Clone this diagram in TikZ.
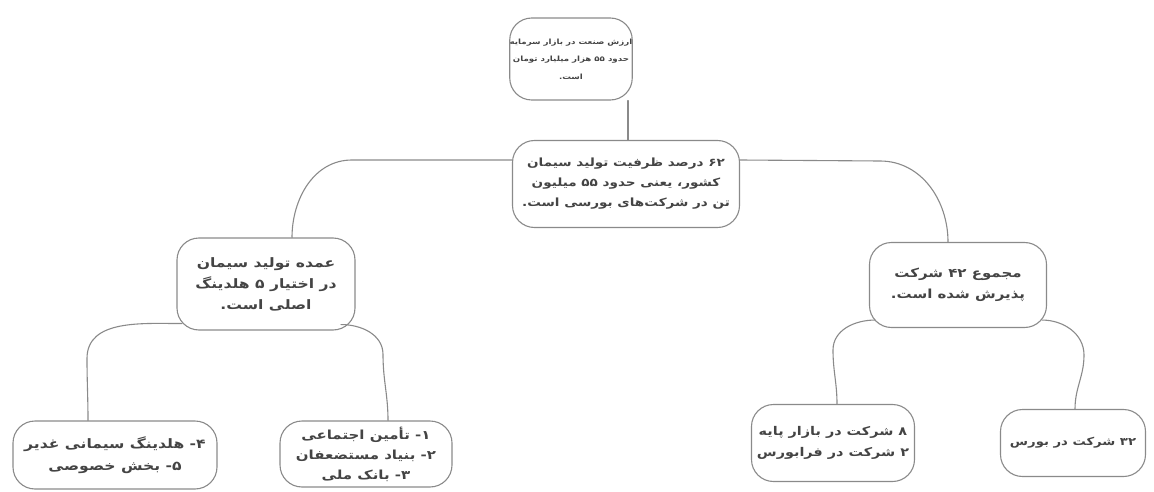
\documentclass[tikz,border=0pt]{standalone}
\usepackage{fontspec}
\newfontfamily\fa[Script=Arabic, FakeStretch=1.2]{DejaVu Sans Bold}
\TeXXeTstate=1
\newcommand\rl[1]{\beginR #1\endR}
\newcommand\fs[2]{\fa\fontsize{#1}{#2}\selectfont}
\definecolor{edge}{HTML}{8A8A8A}
\definecolor{ink}{HTML}{444444}
\tikzset{
  box/.style={draw=edge, line width=1.1pt, rounded corners=22pt, align=center,
    text=ink, inner sep=0pt},
  link/.style={draw=edge, line width=1.1pt, line cap=round}
}
\begin{document}
\begin{tikzpicture}[x=1pt,y=-1pt]
\useasboundingbox (0,0) rectangle (1154,492);
\node[box, minimum width=122pt, minimum height=82pt, font=\fs{7.2}{17.5}] (n1) at (571,59)
  {\rl{ارزش صنعت در بازار سرمایه}\\\rl{حدود ۵۵ هزار میلیارد تومان}\\\rl{است.}};
\node[box, minimum width=227pt, minimum height=87pt, font=\fs{11.3}{20}] (n2) at (626,184)
  {\rl{۶۲ درصد ظرفیت تولید سیمان}\\\rl{کشور، یعنی حدود ۵۵ میلیون}\\\rl{تن در شرکت‌های بورسی است.}};
\node[box, minimum width=178pt, minimum height=92pt, font=\fs{13}{21}] (n3) at (266,284)
  {\rl{عمده تولید سیمان}\\\rl{در اختیار ۵ هلدینگ}\\\rl{اصلی است.}};
\node[box, minimum width=177pt, minimum height=85pt, font=\fs{12.5}{21}] (n4) at (958,285)
  {\rl{مجموع ۴۲ شرکت}\\\rl{پذیرش شده است.}};
\node[box, minimum width=204pt, minimum height=68pt, font=\fs{13}{22}] (n5) at (115,455)
  {\rl{۴- هلدینگ سیمانی غدیر}\\\rl{۵- بخش خصوصی}};
\node[box, minimum width=172pt, minimum height=66pt, font=\fs{12.5}{20}] (n6) at (366,454)
  {\rl{۱- تأمین اجتماعی}\\\rl{۲- بنیاد مستضعفان}\\\rl{۳- بانک ملی}};
\node[box, minimum width=163pt, minimum height=77pt, font=\fs{12}{21}] (n7) at (833,443)
  {\rl{۸ شرکت در بازار پایه}\\\rl{۲ شرکت در فرابورس}};
\node[box, minimum width=145pt, minimum height=67pt, font=\fs{11}{20}] (n8) at (1073,443)
  {\rl{۳۲ شرکت در بورس}};
% connectors
\draw[link] ([xshift=57pt]n1.south) -- ([xshift=2pt]n2.north);
\draw[link] ([yshift=24pt]n2.west) -- ++(-160,0) to[out=180,in=90] ([xshift=26pt]n3.north);
\draw[link] ([yshift=24pt]n2.east) -- ++(140,1) to[out=0,in=90] ([xshift=-10pt]n4.north);
\draw[link] ([xshift=-84pt,yshift=7pt]n3.south) to[out=180,in=90] ++(-95,35) to[out=-90,in=90] ([xshift=-27pt]n5.north);
\draw[link] ([xshift=75pt,yshift=6pt]n3.south) to[out=0,in=90] ++(42,30) to[out=-90,in=90] ([xshift=22pt]n6.north);
\draw[link] ([xshift=-83pt,yshift=8pt]n4.south) to[out=180,in=90] ++(-42,30) to[out=-90,in=90] ([xshift=4pt]n7.north);
\draw[link] ([xshift=84pt,yshift=8pt]n4.south) to[out=0,in=90] ++(42,35) to[out=-90,in=90] ([xshift=2pt]n8.north);
\end{tikzpicture}
\end{document}
